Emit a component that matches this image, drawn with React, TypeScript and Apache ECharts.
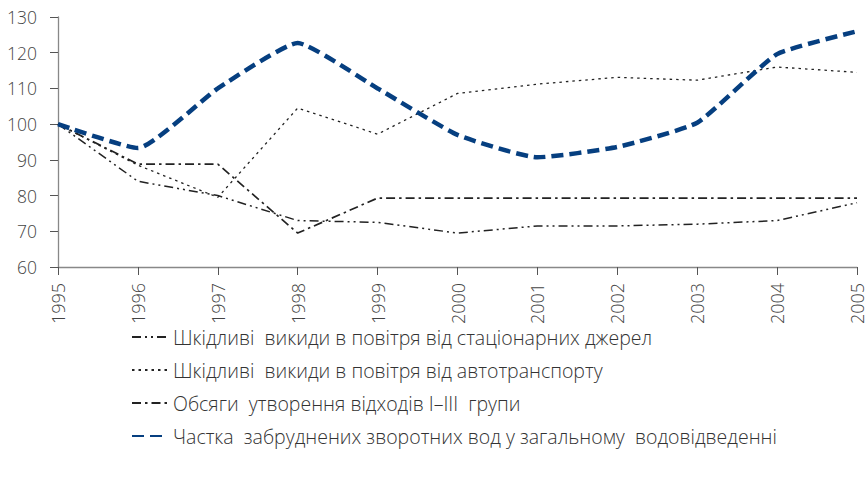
import React, { useEffect, useRef } from "react";
import * as echarts from "echarts";

const years = ["1995", "1996", "1997", "1998", "1999", "2000", "2001", "2002", "2003", "2004", "2005"];
const seriesNames = [
  "Шкідливі  викиди в повітря від стаціонарних джерел",
  "Шкідливі  викиди в повітря від автотранспорту",
  "Обсяги  утворення відходів I–III  групи",
  "Частка  забруднених зворотних вод у загальному  водовідведенні",
];
const stationary = [100, 84, 80, 73, 72.5, 69.5, 71.5, 71.5, 72, 73, 78];
const transport = [100, 88.5, 79.5, 104.5, 97.2, 108.6, 111.2, 113.1, 112.3, 116, 114.5];
const waste = [100, 88.8, 88.8, 69.5, 79.3, 79.3, 79.3, 79.3, 79.3, 79.3, 79.3];
const water = [100, 93.3, 110, 122.7, 110, 97, 90.7, 93.6, 100.4, 119.6, 126];
const yTicks = { min: 60, max: 130, interval: 10 };

const FONT = "'Open Sans'";

export default function App() {
  const ref = useRef<HTMLDivElement>(null);
  useEffect(() => {
    if (!ref.current) return;
    const chart = echarts.init(ref.current, undefined, { renderer: "svg" });
    const black = "#222";
    chart.setOption({
      animation: false,
      textStyle: { fontFamily: FONT },
      grid: { left: 58, right: 11, top: 17, bottom: 211, containLabel: false },
      legend: {
        orient: "vertical",
        left: 126,
        top: 322,
        height: 150,
        padding: 5,
        itemWidth: 36,
        itemHeight: 14,
        itemGap: 13,
        itemStyle: { opacity: 0 },
        textStyle: { fontFamily: FONT, fontSize: 19.5, fontWeight: 300, color: "#333" },
        data: seriesNames,
      },
      xAxis: {
        type: "category",
        data: years,
        boundaryGap: false,
        axisLine: { lineStyle: { color: "#888", width: 1.3 } },
        axisTick: { length: 8, lineStyle: { color: "#555" }, alignWithLabel: true },
        axisLabel: { rotate: 90, margin: 16, fontSize: 18, fontWeight: 300, color: "#444", fontFamily: FONT },
      },
      yAxis: {
        type: "value",
        min: yTicks.min,
        max: yTicks.max,
        interval: yTicks.interval,
        splitLine: { show: false },
        axisLine: { show: true, lineStyle: { color: "#888", width: 1.3 } },
        axisTick: { show: true, length: 8, lineStyle: { color: "#555" } },
        axisLabel: { margin: 21, fontSize: 17.5, fontWeight: 300, color: "#444", fontFamily: FONT },
      },
      series: [
        {
          name: seriesNames[0],
          type: "line",
          data: stationary,
          symbol: "none",
          lineStyle: { color: black, width: 1.5, type: [9, 4, 2, 4, 2, 4] },
          itemStyle: { color: black },
          z: 3,
        },
        {
          name: seriesNames[1],
          type: "line",
          data: transport,
          symbol: "none",
          lineStyle: { color: black, width: 1.3, type: [2.5, 4] },
          itemStyle: { color: black },
          z: 3,
        },
        {
          name: seriesNames[2],
          type: "line",
          data: waste,
          symbol: "none",
          lineStyle: { color: black, width: 1.7, type: [9, 4, 2.5, 4] },
          itemStyle: { color: black },
          z: 3,
        },
        {
          name: seriesNames[3],
          type: "line",
          data: water,
          symbol: "none",
          smooth: 0.15,
          lineStyle: { color: "#063f80", width: 4.5, type: [12, 6] },
          itemStyle: { color: "#063f80" },
          z: 4,
        },
      ],
    });
    return () => chart.dispose();
  }, []);
  return <div ref={ref} style={{ width: 868, height: 478, position: "absolute", left: 0, top: 0 }} />;
}
